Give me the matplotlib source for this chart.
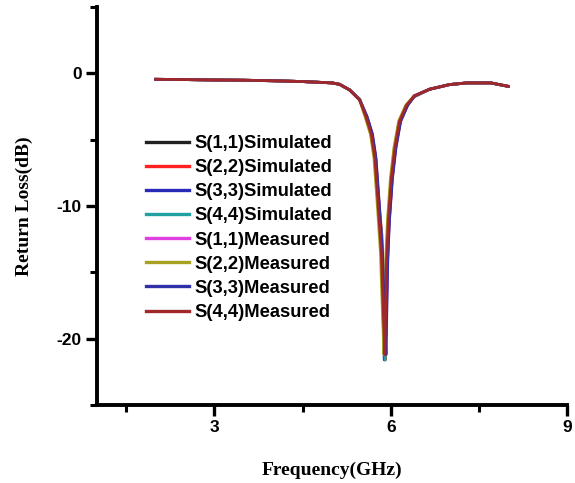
import matplotlib
matplotlib.use("Agg")
import matplotlib.pyplot as plt
from matplotlib.ticker import MultipleLocator

plt.rcParams["axes.unicode_minus"] = False

# frequency points (GHz)
freq = [2.0, 2.5, 3.0, 3.5, 4.0, 4.5, 5.0, 5.13, 5.3, 5.47, 5.58, 5.67, 5.73,
        5.78, 5.81, 5.84, 5.87, 5.9, 5.93, 5.96, 6.01, 6.07, 6.15, 6.27, 6.4,
        6.66, 7.0, 7.3, 7.7, 8.0]

# return loss (dB), simulated and measured
sim = [-0.45, -0.47, -0.5, -0.52, -0.56, -0.62, -0.72, -0.83, -1.25, -1.95, -3.2,
       -4.5, -6.2, -9.2, -10.8, -12.2, -16.5, -21.6, -15.0, -11.5, -8.2, -5.7,
       -3.7, -2.45, -1.75, -1.2, -0.85, -0.72, -0.72, -0.98]
meas = [-0.45, -0.47, -0.5, -0.52, -0.56, -0.62, -0.72, -0.83, -1.25, -2.0, -3.3,
        -4.6, -6.4, -9.5, -11.5, -13.5, -17.5, -21.2, -14.0, -11.0, -7.9, -5.6,
        -3.6, -2.4, -1.7, -1.2, -0.85, -0.72, -0.72, -0.98]

# small frequency offsets between the ports (GHz)
shift = [0.0, 0.01, -0.01, 0.005, 0.015, -0.015, 0.02, 0.0]

labels = ["S(1,1)Simulated", "S(2,2)Simulated", "S(3,3)Simulated", "S(4,4)Simulated",
          "S(1,1)Measured", "S(2,2)Measured", "S(3,3)Measured", "S(4,4)Measured"]
colors = ["#202020", "#ff2020", "#2a2ab8", "#20a0a0",
          "#e040e0", "#a8a020", "#3030a8", "#a02828"]

fig = plt.figure(figsize=(5.75, 4.83), dpi=100)
ax = fig.add_axes([0.1687, 0.1615, 0.8173, 0.824])

for i in range(8):
    vals = sim if i < 4 else meas
    fx = [f + shift[i] if 5.5 < f < 6.3 else f for f in freq]
    ax.plot(fx, vals, color=colors[i], lw=2.0, label=labels[i])

ax.set_xlim(1, 9)
ax.set_ylim(-25, 5)
ax.xaxis.set_major_locator(MultipleLocator(3))
ax.xaxis.set_minor_locator(MultipleLocator(1.5))
ax.yaxis.set_major_locator(MultipleLocator(10))
ax.yaxis.set_minor_locator(MultipleLocator(5))
ax.set_yticks([-20, -10, 0])

for s in ["top", "right"]:
    ax.spines[s].set_visible(False)
for s in ["left", "bottom"]:
    ax.spines[s].set_linewidth(2.8)
ax.tick_params(which="major", length=8, width=2.4, direction="out", pad=3)
ax.tick_params(which="minor", length=5, width=2.2, direction="out")
for t in ax.get_xticklabels() + ax.get_yticklabels():
    t.set_fontfamily("Liberation Sans")
    t.set_fontweight("bold")
    t.set_fontsize(12.5)

ax.set_xlabel("Frequency(GHz)", fontfamily="Liberation Serif", fontweight="bold",
              fontsize=14, labelpad=19)
ax.set_ylabel("Return Loss(dB)", fontfamily="Liberation Serif", fontweight="bold",
              fontsize=14, labelpad=17)

leg = ax.legend(loc="upper left", bbox_to_anchor=(146 / 575, 1 - 135 / 483),
                bbox_transform=fig.transFigure, frameon=False,
                borderpad=0, borderaxespad=0,
                handlelength=2.35, handletextpad=0.3, labelspacing=0.39,
                prop={"family": "Liberation Sans", "weight": "bold", "size": 13.2})
for line in leg.get_lines():
    line.set_linewidth(2.4)

fig.savefig("out.png", dpi=100)
